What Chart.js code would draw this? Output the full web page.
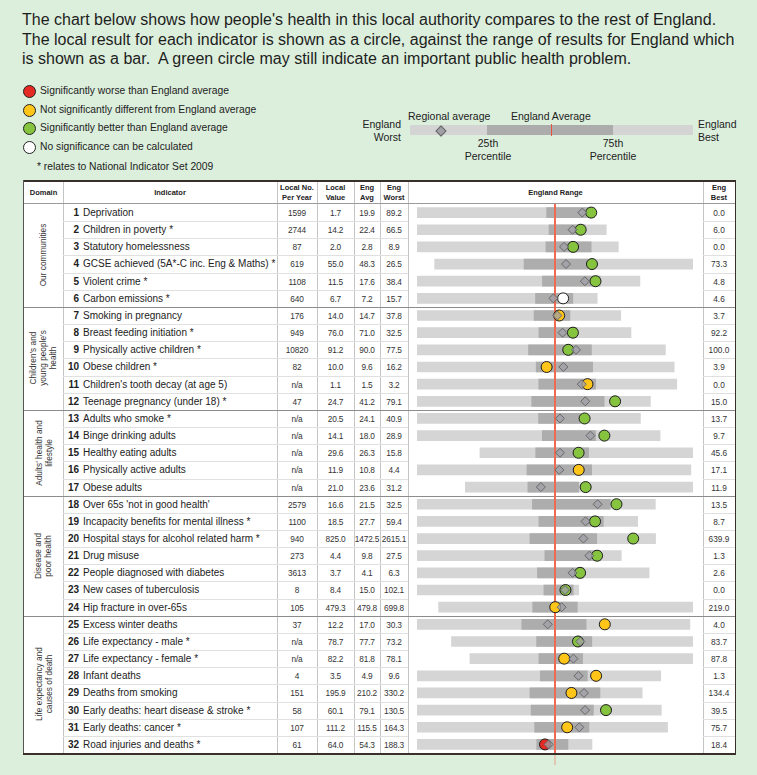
<!DOCTYPE html>
<html>
<head>
<meta charset="utf-8">
<script src="https://cdn.jsdelivr.net/npm/chart.js@4.4.1/dist/chart.umd.min.js"></script>
<style>
  body { margin: 0; background: #dcefdc; font-family: "Liberation Sans", Arial, sans-serif; color: #222; }
  #page { position: relative; width: 757px; height: 775px; overflow: hidden; background: #dcefdc; }
  #page div { position: absolute; white-space: nowrap; }
  #spine { position: absolute; left: 408px; top: 204px; z-index: 5; }
</style>
</head>
<body>
<div id="page"><canvas id="spine" width="295" height="561"></canvas></div>
<script>
// indicator data
var indicators = [
  "Deprivation", "Children in poverty *", "Statutory homelessness",
  "GCSE achieved (5A*-C inc. Eng & Maths) *", "Violent crime *", "Carbon emissions *",
  "Smoking in pregnancy", "Breast feeding initiation *", "Physically active children *",
  "Obese children *", "Children's tooth decay (at age 5)", "Teenage pregnancy (under 18) *",
  "Adults who smoke *", "Binge drinking adults", "Healthy eating adults",
  "Physically active adults", "Obese adults",
  "Over 65s 'not in good health'", "Incapacity benefits for mental illness *",
  "Hospital stays for alcohol related harm *", "Drug misuse", "People diagnosed with diabetes",
  "New cases of tuberculosis", "Hip fracture in over-65s",
  "Excess winter deaths", "Life expectancy - male *", "Life expectancy - female *",
  "Infant deaths", "Deaths from smoking", "Early deaths: heart disease & stroke *",
  "Early deaths: cancer *", "Road injuries and deaths *"
];
var localNo = ["1599", "2744", "87", "619", "1108", "640", "176", "949", "10820", "82", "n/a", "47",
  "n/a", "n/a", "n/a", "n/a", "n/a", "2579", "1100", "940", "273", "3613", "8", "105",
  "37", "n/a", "n/a", "4", "151", "58", "107", "61"];
var localValue = [1.7, 14.2, 2.0, 55.0, 11.5, 6.7, 14.0, 76.0, 91.2, 10.0, 1.1, 24.7,
  20.5, 14.1, 29.6, 11.9, 21.0, 16.6, 18.5, 825.0, 4.4, 3.7, 8.4, 479.3,
  12.2, 78.7, 82.2, 3.5, 195.9, 60.1, 111.2, 64.0];
var engAvg = [19.9, 22.4, 2.8, 48.3, 17.6, 7.2, 14.7, 71.0, 90.0, 9.6, 1.5, 41.2,
  24.1, 18.0, 26.3, 10.8, 23.6, 21.5, 27.7, 1472.5, 9.8, 4.1, 15.0, 479.8,
  17.0, 77.7, 81.8, 4.9, 210.2, 79.1, 115.5, 54.3];
var engWorst = [89.2, 66.5, 8.9, 26.5, 38.4, 15.7, 37.8, 32.5, 77.5, 16.2, 3.2, 79.1,
  40.9, 28.9, 15.8, 4.4, 31.2, 32.5, 59.4, 2615.1, 27.5, 6.3, 102.1, 699.8,
  30.3, 73.2, 78.1, 9.6, 330.2, 130.5, 164.3, 188.3];
var engBest = [0.0, 6.0, 0.0, 73.3, 4.8, 4.6, 3.7, 92.2, 100.0, 3.9, 0.0, 15.0,
  13.7, 9.7, 45.6, 17.1, 11.9, 13.5, 8.7, 639.9, 1.3, 2.6, 0.0, 219.0,
  4.0, 83.7, 87.8, 1.3, 134.4, 39.5, 75.7, 18.4];
// estimated from the bars (not printed in the table)
var regionalAvg = [6.2, 16.8, 2.4, 50.3, 13.1, 7.3, 14.3, 73.1, 91.9, 9.2, 1.17, 32.9,
  23.5, 15.2, 27.0, 11.0, 24.8, 18.1, 20.7, 1237, 5.4, 3.82, 8.7, 467.3,
  17.7, 78.8, 82.6, 4.1, 185.0, 67.9, 106.9, 60.5];
var pct25 = [24.1, 24.3, 3.2, 42.7, 19.5, 8.4, 18.2, 66.5, 87.6, 10.5, 1.70, 47.6,
  26.1, 19.0, 23.6, 9.5, 25.9, 23.3, 31.4, 1680, 11.1, 4.38, 22.0, 522.0,
  20.2, 76.9, 81.1, 5.4, 232.0, 88.0, 122.7, 72.0];
var pct75 = [1.5, 12.8, 1.2, 54.3, 10.8, 6.1, 12.2, 77.1, 93.3, 7.8, 1.0, 27.7,
  21.0, 14.8, 31.0, 12.5, 21.6, 17.1, 16.6, 1127, 4.0, 3.65, 3.5, 437.6,
  14.0, 79.3, 83.0, 3.8, 171.1, 64.8, 103.5, 41.7];
// W = worse, S = not significantly different, B = better, N = no significance
var significance = ["B", "B", "B", "B", "B", "N", "S", "B", "B", "S", "S", "B",
  "B", "B", "B", "S", "B", "B", "B", "B", "B", "B", "B", "S",
  "S", "B", "S", "S", "S", "B", "S", "W"];
var domains = [
  { lines: ["Our communities"], first: 0, last: 5 },
  { lines: ["Children's and", "young people's", "health"], first: 6, last: 11 },
  { lines: ["Adults' health and", "lifestyle"], first: 12, last: 16 },
  { lines: ["Disease and", "poor health"], first: 17, last: 23 },
  { lines: ["Life expectancy and", "causes of death"], first: 24, last: 31 }
];

var sigColours = { W: "#e42a22", S: "#ffc519", B: "#86c440", N: "#ffffff" };

var page = document.getElementById('page');
function div(css, html) {
  var d = document.createElement('div');
  d.style.cssText = css;
  if (html !== undefined) d.innerHTML = html;
  page.appendChild(d);
  return d;
}

// intro text
var intro = [
  "The chart below shows how people's health in this local authority compares to the rest of England.",
  "The local result for each indicator is shown as a circle, against the range of results for England which",
  "is shown as a bar.&nbsp; A green circle may still indicate an important public health problem."
];
intro.forEach(function(t, i) {
  div("left:22px;top:" + (10 + i * 19.5) + "px;font-size:16px;line-height:19.5px;color:#1e1e1e;", t);
});

// significance legend
var legend = [
  ["W", "Significantly worse than England average"],
  ["S", "Not significantly different from England average"],
  ["B", "Significantly better than England average"],
  ["N", "No significance can be calculated"]
];
var legendY = [91, 109.5, 128, 147];
legend.forEach(function(l, i) {
  div("left:23px;top:" + (legendY[i] - 6) + "px;width:11px;height:11px;border:1px solid #222;border-radius:50%;background:" + sigColours[l[0]] + ";");
  div("left:40px;top:" + (legendY[i] - 7) + "px;font-size:10.3px;line-height:14px;", l[1]);
});
div("left:37px;top:160px;font-size:10.3px;line-height:14px;", "* relates to National Indicator Set 2009");

// key
div("left:410px;top:125px;width:283px;height:10px;background:#d4d4d4;");
div("left:487px;top:125px;width:126px;height:10px;background:#acacac;");
div("left:551px;top:124px;width:1px;height:12px;background:#e8553c;");
div("left:437px;top:127px;width:6px;height:6px;background:#a0a0a6;border:1px solid #666;transform:rotate(45deg);");
var keyFont = "font-size:10.5px;line-height:13px;";
div("left:408px;top:110px;" + keyFont, "Regional average");
div("left:511px;top:110px;" + keyFont, "England Average");
div("left:335px;top:118px;width:66px;text-align:right;" + keyFont, "England<br>Worst");
div("left:698px;top:118px;" + keyFont, "England<br>Best");
div("left:455px;top:137px;width:66px;text-align:center;" + keyFont, "25th<br>Percentile");
div("left:580px;top:137px;width:66px;text-align:center;" + keyFont, "75th<br>Percentile");

// table frame
var cols = [24, 63, 277, 317, 354, 380, 408, 703, 735];
var rowTop = 204, rowH = 549 / 32, bottom = rowTop + 549;
div("left:24px;top:181px;width:711px;height:" + (bottom - 181) + "px;background:#fff;");
cols.slice(1, -1).forEach(function(x) {
  div("left:" + x + "px;top:181px;width:1px;height:" + (bottom - 181) + "px;background:#c4c4c4;");
});
div("left:24px;top:" + (rowTop - 1) + "px;width:711px;height:1px;background:#9a9a9a;");
for (var r = 1; r < 32; r++) {
  var y = rowTop + r * rowH;
  var isDomain = domains.some(function(d) { return d.first === r; });
  if (isDomain) {
    div("left:24px;top:" + y + "px;width:711px;height:1px;background:#8c8c8c;");
  } else {
    div("left:63px;top:" + y + "px;width:345px;height:1px;background:#e0e0e0;");
    div("left:703px;top:" + y + "px;width:32px;height:1px;background:#e0e0e0;");
  }
}
div("left:23px;top:180px;width:713px;height:2px;background:#3a302a;");
div("left:23px;top:" + bottom + "px;width:713px;height:2px;background:#3a302a;");
div("left:23px;top:180px;width:1px;height:" + (bottom - 180) + "px;background:#555;");
div("left:735px;top:180px;width:1px;height:" + (bottom - 180) + "px;background:#3a302a;");

// header row
var heads = ["Domain", "Indicator", "Local No.<br>Per Year", "Local<br>Value", "Eng<br>Avg", "Eng<br>Worst", "England Range", "Eng<br>Best"];
heads.forEach(function(h, i) {
  div("left:" + cols[i] + "px;top:182px;width:" + (cols[i + 1] - cols[i]) + "px;height:22px;display:flex;align-items:center;justify-content:center;text-align:center;font-size:7.5px;line-height:10px;font-weight:bold;color:#222;white-space:normal;", h);
});

// table rows
function fmt(v) { return v.toFixed(1); }
indicators.forEach(function(name, i) {
  var t = rowTop + i * rowH;
  var cell = "top:" + t + "px;height:" + rowH + "px;line-height:" + (rowH + 1) + "px;";
  div(cell + "left:63px;width:16px;text-align:right;font-size:10px;font-weight:bold;", String(i + 1));
  div(cell + "left:83px;font-size:10px;", name.replace(/&/g, "&amp;"));
  var nums = [localNo[i], fmt(localValue[i]), fmt(engAvg[i]), fmt(engWorst[i])];
  nums.forEach(function(n, k) {
    div(cell + "left:" + cols[k + 2] + "px;width:" + (cols[k + 3] - cols[k + 2]) + "px;text-align:center;font-size:8.3px;letter-spacing:-0.15px;color:#333;", n);
  });
  div(cell + "left:703px;width:32px;text-align:center;font-size:8.3px;color:#333;", fmt(engBest[i]));
});

// rotated domain labels
domains.forEach(function(d) {
  var h = (d.last - d.first + 1) * rowH;
  var cy = rowTop + d.first * rowH + h / 2;
  div("left:" + (43.5 - h / 2) + "px;top:" + (cy - 19) + "px;width:" + h + "px;height:38px;display:flex;align-items:center;justify-content:center;text-align:center;font-size:8.3px;line-height:10px;color:#333;transform:rotate(-90deg);white-space:normal;", d.lines.join("<br>"));
});

// spine chart: every indicator scaled so England average sits in the middle
function spinePos(i, v) {
  var avg = engAvg[i];
  var half = Math.max(Math.abs(engWorst[i] - avg), Math.abs(engBest[i] - avg));
  var dir = engBest[i] >= engWorst[i] ? 1 : -1;
  return 50 + 50 * dir * (v - avg) / half;
}

var rangeBars = indicators.map(function(_, i) { return [spinePos(i, engWorst[i]), spinePos(i, engBest[i])]; });
var iqrBars = indicators.map(function(_, i) { return [spinePos(i, pct25[i]), spinePos(i, pct75[i])]; });
var localPts = indicators.map(function(n, i) { return { x: spinePos(i, localValue[i]), y: n }; });
var regionPts = indicators.map(function(n, i) { return { x: spinePos(i, regionalAvg[i]), y: n }; });
var avgPos = spinePos(0, engAvg[0]);

// England average line, drawn over the bars but under the markers;
// it runs a little past the table bottom, fainter there
var avgLine = {
  id: 'avgLine',
  afterDatasetDraw: function(chart, args) {
    if (args.index !== 2) return;
    var x = chart.scales.x.getPixelForValue(avgPos);
    var area = chart.chartArea;
    var c = chart.ctx;
    c.save();
    c.strokeStyle = '#ee6a50';
    c.lineWidth = 2;
    c.beginPath();
    c.moveTo(x, 0);
    c.lineTo(x, area.bottom);
    c.stroke();
    c.globalAlpha = 0.3;
    c.beginPath();
    c.moveTo(x, area.bottom + 2);
    c.lineTo(x, chart.height);
    c.stroke();
    c.restore();
  }
};

var ctx = document.getElementById('spine').getContext('2d');
var chart = new Chart(ctx, {
  type: 'bar',
  data: {
    labels: indicators,
    datasets: [{
      type: 'scatter',
      label: 'Regional average',
      data: regionPts,
      pointStyle: 'rectRot',
      pointRadius: 4.5,
      pointBackgroundColor: 'rgba(160,160,168,0.75)',
      pointBorderColor: '#686868',
      pointBorderWidth: 1,
      order: 1
    }, {
      type: 'scatter',
      label: 'Local value',
      data: localPts,
      pointRadius: 5.5,
      pointBackgroundColor: significance.map(function(s) { return sigColours[s]; }),
      pointBorderColor: '#1c1c1c',
      pointBorderWidth: 1,
      order: 2
    }, {
      label: '25th to 75th percentile',
      data: iqrBars,
      backgroundColor: '#adadad',
      barThickness: 10,
      grouped: false,
      order: 4
    }, {
      label: 'England range',
      data: rangeBars,
      backgroundColor: '#d5d5d5',
      barThickness: 10,
      grouped: false,
      order: 5
    }]
  },
  options: {
    indexAxis: 'y',
    responsive: false,
    devicePixelRatio: 1,
    animation: false,
    events: [],
    layout: { autoPadding: false, padding: { left: 9, right: 10, top: 0, bottom: 12 } },
    plugins: { legend: { display: false }, tooltip: { enabled: false } },
    scales: {
      x: { type: 'linear', min: 0, max: 100, display: false },
      y: { type: 'category', offset: true, display: false }
    }
  },
  plugins: [avgLine]
});
</script>
</body>
</html>
